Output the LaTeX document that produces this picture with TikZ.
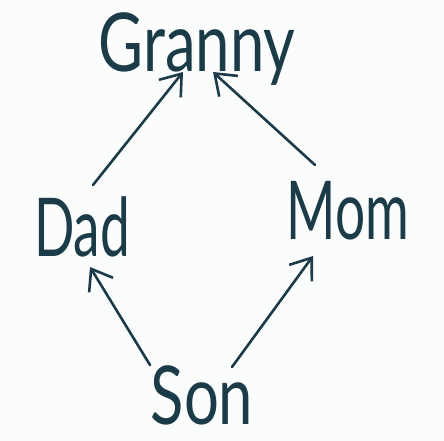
\documentclass[tikz,border=0pt]{standalone}
\usepackage{fontspec}
\setmainfont{Lato}
\usetikzlibrary{arrows.meta}
\definecolor{ink}{HTML}{1C3B48}
\definecolor{paper}{HTML}{FBFCFC}
\newcommand{\hand}[2][0.95]{\scalebox{#1}[1.45]{\fontsize{56}{56}\selectfont #2}}
\begin{document}
\begin{tikzpicture}[x=1pt,y=1pt,line join=round,line cap=round,
	person/.style={text=ink,inner sep=0pt,anchor=base},
	arr/.style={draw=ink,line width=2.6pt,-{Straight Barb[length=19pt,width=28pt]}}]
	\fill[paper] (0,0) rectangle (444,441);
	\useasboundingbox (0,0) rectangle (444,441);
	\node[person] (granny) at (197,369) {\hand[1.1]{Granny}};
	\node[person] (dad) at (82,184) {\hand{Dad}};
	\node[person] (mom) at (348,201) {\hand{Mom}};
	\node[person] (son) at (202,16) {\hand[1.1]{Son}};
	\draw[arr] ([shift={(11,72)}]dad.base) -- ([xshift=-14]granny.base);
	\draw[arr] ([shift={(-33,75)}]mom.base) -- ([xshift=16]granny.base);
	\draw[arr] ([shift={(-52,60)}]son.base) -- ([shift={(8,-10)}]dad.base);
	\draw[arr] ([shift={(30,58)}]son.base) -- ([shift={(-35,-16)}]mom.base);
\end{tikzpicture}
\end{document}
